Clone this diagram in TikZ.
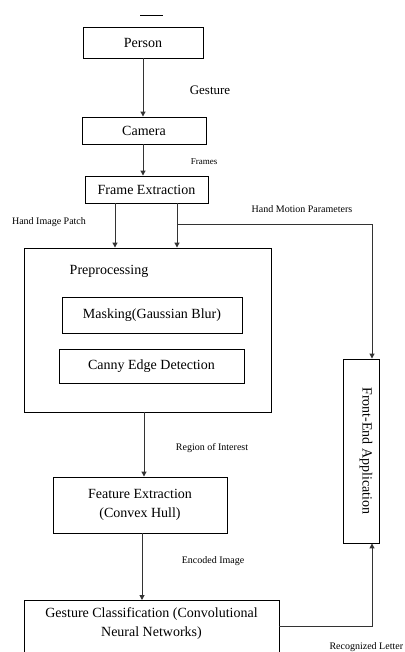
\documentclass[tikz,border=0pt]{standalone}
\usepackage{fontspec}
\setmainfont{Liberation Serif}
\usetikzlibrary{arrows.meta}
\begin{document}
\begin{tikzpicture}[x=1pt,y=-1pt,
    box/.style={draw,line width=0.9pt,inner sep=0pt,align=center,font=\fontsize{14}{19}\selectfont},
    lbl/.style={font=\fontsize{10}{11}\selectfont},
    flow/.style={draw=black!80,line width=1pt,-{Triangle[length=5pt,width=5pt]}}]
    \useasboundingbox (0,0) rectangle (404,652);
    \draw[line width=0.8pt] (140,15) -- (163,15);
    % boxes
    \node[box,minimum width=120pt,minimum height=31pt] (person) at (143,42.5) {Person};
    \node[box,minimum width=124pt,minimum height=27pt] (camera) at (144,130.5) {Camera};
    \node[box,minimum width=123pt,minimum height=27pt] (fe) at (146.5,189.5) {Frame Extraction};
    \node[box,minimum width=247pt,minimum height=164pt] (prep) at (147.5,330) {};
    \node[font=\fontsize{14}{16}\selectfont] (preptitle) at (109,271) {Preprocessing};
    \node[box,minimum width=180pt,minimum height=36pt] (mask) at (152,315) {Masking(Gaussian Blur)};
    \node[box,minimum width=185pt,minimum height=34pt] (canny) at (151.5,366) {Canny Edge Detection};
    \node[box,minimum width=36pt,minimum height=184pt] (front) at (361,451) {};
    \node[font=\fontsize{14}{16}\selectfont,rotate=-90] (fronttext) at (366,451) {Front-End Application};
    \node[box,minimum width=174pt,minimum height=56pt] (feat) at (140,505) {Feature Extraction\\(Convex Hull)};
    \node[box,anchor=north,minimum width=255pt,text height=36pt,text depth=34pt] (gc) at (151.5,600)
        {Gesture Classification (Convolutional\\Neural Networks)};
    % connectors
    \coordinate (fl) at ([xshift=-31.5pt]fe.south);
    \coordinate (fr) at ([xshift=30.5pt]fe.south);
    \coordinate (split) at (fr |- 0,224);
    \coordinate (fin) at ([xshift=11pt]front.north);
    \coordinate (fout) at ([xshift=11pt]front.south);
    \coordinate (gout) at (gc.east |- 0,626);
    \coordinate (pout) at ([xshift=-3.5pt]prep.south);
    \coordinate (fdown) at ([xshift=2pt]feat.south);
    \draw[flow] (person.south) -- (person.south |- camera.north);
    \draw[flow] ([xshift=-1pt]camera.south) -- ([xshift=-1pt]camera.south |- fe.north);
    \draw[flow] (fl) -- (fl |- prep.north);
    \draw[flow] (fr) -- (fr |- prep.north);
    \draw[flow] (split) -| (fin);
    \draw[flow] (pout) -- (pout |- feat.north);
    \draw[flow] (fdown) -- (fdown |- gc.north);
    \draw[flow] (gout) -| (fout);
    % labels
    \node[font=\fontsize{13}{15}\selectfont] (lgesture) at (210,90) {Gesture};
    \node[lbl,font=\fontsize{9}{10}\selectfont] (lframes) at (204,162) {Frames};
    \node[lbl] (lpatch) at (49,222) {Hand Image Patch};
    \node[lbl] (lmotion) at (302,209) {Hand Motion Parameters};
    \node[lbl] (lroi) at (212,448) {Region of Interest};
    \node[lbl] (lenc) at (213,561) {Encoded Image};
    \node[lbl,anchor=west] (lletter) at (326,647) {Recognized Letter};
\end{tikzpicture}
\end{document}
